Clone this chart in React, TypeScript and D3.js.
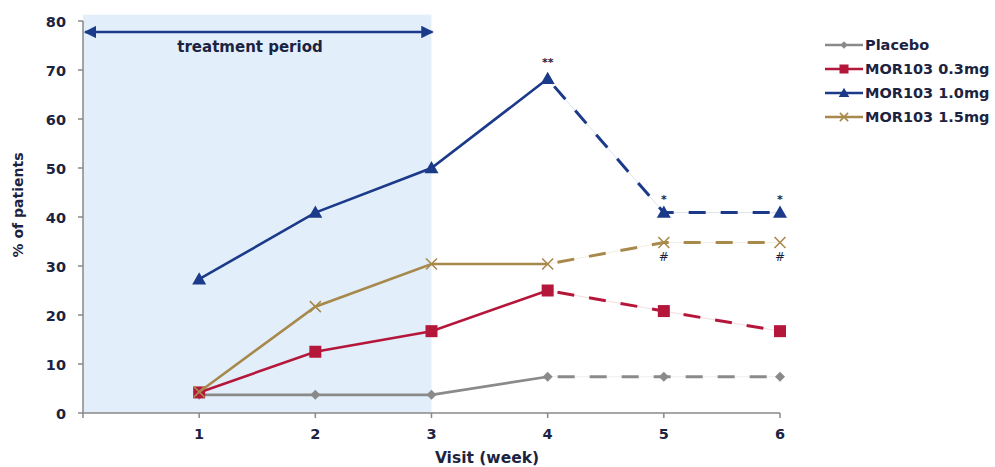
import React from "react";
import * as d3 from "d3";

const visits = [1, 2, 3, 4, 5, 6];
const xTicks = [1, 2, 3, 4, 5, 6];
const yTicks = [0, 10, 20, 30, 40, 50, 60, 70, 80];
const placebo = [3.7, 3.7, 3.7, 7.4, 7.4, 7.4];
const mor03 = [4.2, 12.5, 16.7, 25.0, 20.8, 16.7];
const mor10 = [27.3, 40.9, 50.0, 68.2, 40.9, 40.9];
const mor15 = [4.3, 21.7, 30.4, 30.4, 34.8, 34.8];
const seriesNames = ["Placebo", "MOR103 0.3mg", "MOR103 1.0mg", "MOR103 1.5mg"];
const starNotes = [{ v: 4, y: 68.2, t: "**" }, { v: 5, y: 40.9, t: "*" }, { v: 6, y: 40.9, t: "*" }];
const hashNotes = [{ v: 5, y: 34.8, t: "#" }, { v: 6, y: 34.8, t: "#" }];

const W = 995, H = 467;
const FONT = "'DejaVu Sans', Verdana, sans-serif";
const TXT = "#1c2340";

const x = d3.scaleLinear().domain([0, 6]).range([83, 780]);
const y = d3.scaleLinear().domain([0, 80]).range([413, 21]);

const series = [
  { name: seriesNames[0], data: placebo, color: "#8a8a8a", marker: "diamond" },
  { name: seriesNames[1], data: mor03, color: "#b5173b", marker: "square" },
  { name: seriesNames[2], data: mor10, color: "#1b3a8a", marker: "triangle" },
  { name: seriesNames[3], data: mor15, color: "#a8894c", marker: "x" },
];

function Marker({ type, cx, cy, color, k = 1 }: { type: string; cx: number; cy: number; color: string; k?: number }) {
  if (type === "diamond") {
    const s = 5 * k;
    return <path d={`M${cx},${cy - s}L${cx + s},${cy}L${cx},${cy + s}L${cx - s},${cy}Z`} fill={color} />;
  }
  if (type === "square") {
    const s = 6 * k;
    return <rect x={cx - s} y={cy - s} width={2 * s} height={2 * s} fill={color} />;
  }
  if (type === "triangle") {
    const s = 7 * k;
    return <path d={`M${cx},${cy - s}L${cx + s},${cy + s * 0.75}L${cx - s},${cy + s * 0.75}Z`} fill={color} />;
  }
  const s = 5.5 * k;
  return (
    <path d={`M${cx - s},${cy - s}L${cx + s},${cy + s}M${cx - s},${cy + s}L${cx + s},${cy - s}`} stroke={color} strokeWidth={1.6} fill="none" />
  );
}

export default function App() {
  const line = d3.line<[number, number]>().x((d) => x(d[0])).y((d) => y(d[1]));
  return (
    <svg width={W} height={H} style={{ position: "absolute", left: 0, top: 0, background: "#fff" }}>
      <defs>
        <marker id="ah" viewBox="0 0 10 10" refX="9" refY="5" markerWidth="5" markerHeight="5" orient="auto-start-reverse">
          <path d="M0,0L10,5L0,10Z" fill="#1b3a8a" />
        </marker>
      </defs>
      <rect x={x(0)} y={y(81.3)} width={x(3) - x(0)} height={y(0) - y(81.3)} fill="#e2effb" />
      <line x1={x(0) + 2} x2={x(3) + 1} y1={32} y2={32} stroke="#1b3a8a" strokeWidth={2.5} markerStart="url(#ah)" markerEnd="url(#ah)" />
      <text x={250} y={52} textAnchor="middle" fontFamily={FONT} fontSize={15} fontWeight="bold" fill={TXT}>treatment period</text>

      {/* axes */}
      <line x1={x(0)} x2={x(0)} y1={y(80)} y2={y(0)} stroke="#888" strokeWidth={1.5} />
      <line x1={x(0)} x2={x(6)} y1={y(0)} y2={y(0)} stroke="#888" strokeWidth={1.5} />
      {yTicks.map((t) => (
        <g key={t}>
          <line x1={x(0) - 5} x2={x(0)} y1={y(t)} y2={y(t)} stroke="#888" strokeWidth={1.5} />
          <text x={x(0) - 17} y={y(t) + 5.5} textAnchor="end" fontFamily={FONT} fontSize={14.5} fontWeight="bold" fill={TXT}>{t}</text>
        </g>
      ))}
      {[0, ...xTicks].map((t) => (
        <line key={t} x1={x(t)} x2={x(t)} y1={y(0)} y2={y(0) + 5} stroke="#888" strokeWidth={1.5} />
      ))}
      {xTicks.map((t) => (
        <text key={t} x={x(t)} y={y(0) + 26} textAnchor="middle" fontFamily={FONT} fontSize={14.5} fontWeight="bold" fill={TXT}>{t}</text>
      ))}
      <text x={487} y={463} textAnchor="middle" fontFamily={FONT} fontSize={15.5} fontWeight="bold" fill={TXT}>Visit (week)</text>
      <text transform={`translate(23,205) rotate(-90)`} textAnchor="middle" fontFamily={FONT} fontSize={14} fontWeight="bold" fill={TXT}>% of patients</text>

      {series.map((s) => {
        const pts = visits.map((v, i) => [v, s.data[i]] as [number, number]);
        return (
          <g key={s.name}>
            <path d={line(pts.slice(0, 4)) || ""} stroke={s.color} strokeWidth={2.6} fill="none" />
            <path d={line(pts.slice(3)) || ""} stroke={s.color} strokeOpacity={0.15} strokeWidth={1} fill="none" />
            <path d={line(pts.slice(3)) || ""} stroke={s.color} strokeWidth={3} strokeDasharray="17,15" strokeDashoffset={-10} fill="none" />
            {pts.map((p, i) => (
              <Marker key={i} type={s.marker} cx={x(p[0])} cy={y(p[1])} color={s.color} />
            ))}
          </g>
        );
      })}

      {starNotes.map((n, i) => (
        <text key={i} x={x(n.v)} y={y(n.y) - (n.t === "**" ? 13 : 10)} textAnchor="middle" fontFamily={FONT} fontSize={11} fontWeight="bold" fill={TXT}>{n.t}</text>
      ))}
      {hashNotes.map((n, i) => (
        <text key={i} x={x(n.v)} y={y(n.y) + 19} textAnchor="middle" fontFamily={FONT} fontSize={12} fill={TXT}>{n.t}</text>
      ))}

      {series.map((s, i) => {
        const ly = 45 + i * 24;
        return (
          <g key={s.name}>
            <line x1={825} x2={863} y1={ly} y2={ly} stroke={s.color} strokeWidth={2.6} />
            <Marker type={s.marker} cx={844} cy={ly} color={s.color} k={0.75} />
            <text x={865} y={ly + 5} fontFamily={FONT} fontSize={14.5} fontWeight="bold" fill={TXT}>{s.name}</text>
          </g>
        );
      })}
    </svg>
  );
}
